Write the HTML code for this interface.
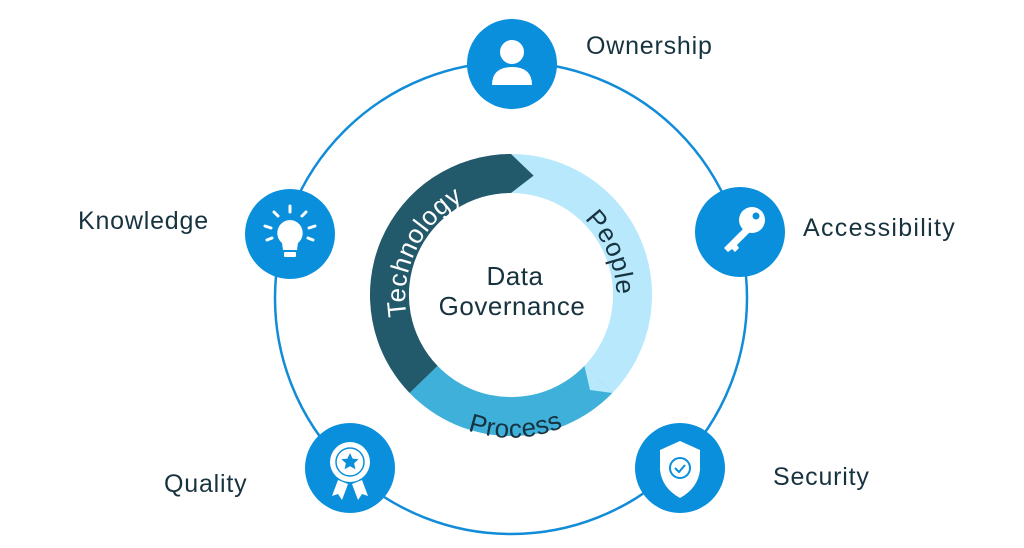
<!DOCTYPE html>
<html><head><meta charset="utf-8"><style>
html,body{margin:0;padding:0;background:#fff;}
svg{display:block;font-family:"Liberation Sans",sans-serif;}
</style></head><body>
<svg width="1024" height="548" viewBox="0 0 1024 548" xmlns="http://www.w3.org/2000/svg">
<circle cx="511" cy="298" r="236" fill="none" stroke="#128cd8" stroke-width="2.5"/>
<path d="M498.7,154.5 A141,141 0 0 1 612.4,393 L584.4,365.9 A102,102 0 0 0 502.1,193.4 Z" fill="#b8e8fc"/>
<path d="M612.4,393 A141,141 0 0 1 409.6,393 L437.6,365.9 A102,102 0 0 0 584.4,365.9 Z" fill="#3fb0d9"/>
<path d="M584.4,365.9 L612.4,393 L590,390 Z" fill="#b8e8fc"/>
<path d="M409.6,393 A141,141 0 0 1 511,154 L533.6,175.6 L511,193 A102,102 0 0 0 437.6,365.9 Z" fill="#22596b"/>
<defs>
<path id="pt" d="M472.3,401.2 A112,112 0 1 1 583.6,208.4"/>
<path id="pp" d="M449.5,200.2 A112,112 0 1 1 536.4,405.1"/>
<path id="pr" d="M381.3,276.8 A133,133 0 1 0 639.1,267.8"/>
</defs>
<text font-size="26" fill="#fff" letter-spacing="0.6"><textPath href="#pt" startOffset="48%" text-anchor="middle">Technology</textPath></text>
<text font-size="26" fill="#17333f" letter-spacing="0.6"><textPath href="#pp" startOffset="50%" text-anchor="middle">People</textPath></text>
<text font-size="26" fill="#17333f" letter-spacing="0.6"><textPath href="#pr" startOffset="50%" text-anchor="middle">Process</textPath></text>
<text x="515" y="285" font-size="26" fill="#17333f" text-anchor="middle" letter-spacing="0.5">Data</text>
<text x="512" y="315" font-size="26" fill="#17333f" text-anchor="middle" letter-spacing="0.5">Governance</text>

<g fill="#0a8fdc">
<circle cx="512" cy="64" r="45"/>
<circle cx="740" cy="232" r="45"/>
<circle cx="290" cy="234" r="45"/>
<circle cx="350" cy="468" r="45"/>
<circle cx="680" cy="468" r="45"/>
</g>
<g fill="#fff">
<circle cx="512" cy="52" r="12"/>
<path d="M492,85 Q492,67 512,67 Q532,67 532,85 Z"/>
</g>
<g fill="#fff">
<circle cx="752" cy="220" r="13"/>
<path d="M745,227 L724,248 L728,252 L732,249 L735,252 L739,248 L737,245 L752,230 Z"/>
<circle cx="756" cy="216" r="3.5" fill="#0a8fdc"/>
</g>
<g fill="#fff" stroke="#fff">
<path d="M290,220 a13,13 0 0 1 8,23 l-1,7 h-14 l-1,-7 a13,13 0 0 1 8,-23 Z" stroke="none"/>
<rect x="284" y="252" width="12" height="5" rx="1" stroke="none"/>
<g stroke-width="3" stroke-linecap="round">
<line x1="290" y1="206" x2="290" y2="212"/>
<line x1="274" y1="212" x2="278" y2="216"/>
<line x1="306" y1="212" x2="302" y2="216"/>
<line x1="265" y1="226" x2="271" y2="228"/>
<line x1="315" y1="226" x2="309" y2="228"/>
<line x1="267" y1="240" x2="272" y2="238"/>
<line x1="313" y1="240" x2="308" y2="238"/>
</g>
</g>
<g>
<path d="M338,480 L332,496 L338,494 L342,500 L348,484 Z M362,480 L368,496 L362,494 L358,500 L352,484 Z" fill="#fff"/>
<circle cx="350" cy="462" r="20" fill="#fff"/>
<circle cx="350" cy="462" r="14" fill="none" stroke="#0a8fdc" stroke-width="1.5"/>
<path d="M350,453 l2.6,5.6 6,0.6 -4.5,4 1.3,6 -5.4,-3 -5.4,3 1.3,-6 -4.5,-4 6,-0.6 Z" fill="#0a8fdc"/>
</g>
<g>
<path d="M680,441 L700,450 L700,470 Q698,488 680,498 Q662,488 660,470 L660,450 Z" fill="#fff"/>
<circle cx="680" cy="468" r="10" fill="none" stroke="#0a8fdc" stroke-width="2"/>
<path d="M675,468 l4,4 6,-7" fill="none" stroke="#0a8fdc" stroke-width="2"/>
</g>

<g font-size="25" fill="#17333f" letter-spacing="0.8">
<text x="586" y="54">Ownership</text>
<text x="78" y="229">Knowledge</text>
<text x="803" y="236" letter-spacing="1.3">Accessibility</text>
<text x="164" y="492">Quality</text>
<text x="773" y="485">Security</text>
</g>
</svg>
</body></html>
